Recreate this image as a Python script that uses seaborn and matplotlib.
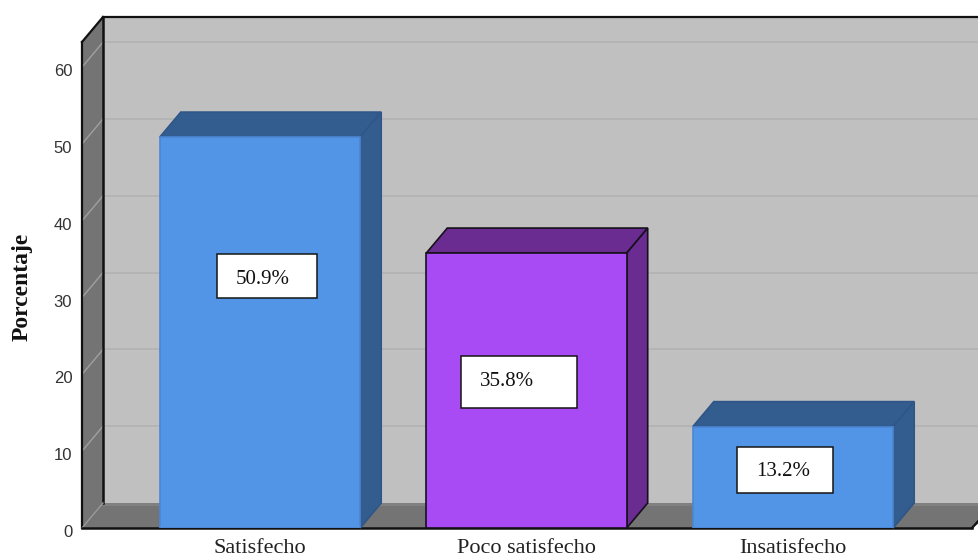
import matplotlib
matplotlib.use("Agg")
import matplotlib.pyplot as plt
import pandas as pd
import seaborn as sns
from matplotlib.patches import Polygon, Rectangle
from matplotlib.transforms import IdentityTransform, ScaledTranslation

categories = ["Satisfecho", "Poco satisfecho", "Insatisfecho"]
values = [50.9, 35.8, 13.2]
value_labels = ["50.9%", "35.8%", "13.2%"]
yticks = [0, 10, 20, 30, 40, 50, 60]
ylabel = "Porcentaje"

W, H = 979, 560
DX, DY = 21, 25
FRONT = ["#5294E6", "#A94BF5", "#5294E6"]
SIDE = ["#335C8F", "#6A2C91", "#335C8F"]
EDGE = ["#4B86D2", "#16101C", "#4B86D2"]
SIDE_EDGE = ["#2F5687", "#16101C", "#2F5687"]

sns.set_theme(style="white")
plt.rcParams["font.family"] = ["Liberation Serif", "DejaVu Serif"]
fig = plt.figure(figsize=(W / 100, H / 100), dpi=100, facecolor="white")
ax = fig.add_axes([82 / W, (H - 528) / H, (W - 82) / W, (528 - 42) / H])
ax.patch.set_alpha(0)

df = pd.DataFrame({"cat": categories, "val": values})
sns.barplot(data=df, x="cat", y="val", hue="cat", palette=FRONT, order=categories,
            hue_order=categories, width=0.752, dodge=False, legend=False, saturation=1,
            ax=ax, zorder=5)
ax.set_xlim((82 - 260) / 266.5, (979 - 260) / 266.5)
ax.set_ylim(0, (528 - 42) / 7.68)
sns.despine(ax=ax, left=True, bottom=True)
fig.canvas.draw()

I = IdentityTransform()
def P(x, y):
    """Reference pixel (top-left origin) to display coordinates."""
    return (x, H - y)
def poly(pts, color, z, edge="none", lw=0):
    ax.add_patch(Polygon(pts, closed=True, facecolor=color, edgecolor=edge, linewidth=lw,
                         transform=I, clip_on=False, zorder=z))
def line(pts, color, lw, z):
    ax.plot([p[0] for p in pts], [p[1] for p in pts], color=color, lw=lw, transform=I,
            clip_on=False, zorder=z, solid_capstyle="projecting", scalex=False, scaley=False)

# walls and floor
poly([P(103, 17), P(W + 2, 17), P(W + 2, 503), P(103, 503)], "#C0C0C0", 1)
poly([P(82, 42), P(103, 17), P(103, 503), P(82, 528)], "#747474", 1)
poly([P(82, 528), P(103, 503), P(W + 30, 503), P(972, 528)], "#747474", 1)
poly([P(103, 503), P(W + 2, 503), P(W + 2, 506), P(101, 506)], "#808080", 1.2)

# gridlines on back and side wall
for v in yticks[1:]:
    x0, y0 = ax.transData.transform((ax.get_xlim()[0], v))
    line([(x0, y0), (x0 + DX, y0 + DY)], "#A0A0A0", 1.0, 2)
    line([(x0 + DX, y0 + DY), (W + 2, y0 + DY)], "#B4B4B4", 1.4, 2)

line([P(103, 17), P(103, 503)], "#111111", 1.8, 3)
line([P(103, 17), P(W + 2, 17)], "#111111", 1.6, 3)
line([P(82, 42), P(103, 17)], "#111111", 1.6, 3)
line([P(82, 42), P(82, 528)], "#111111", 1.6, 3)
line([P(82, 528), P(103, 503)], "#999999", 1.0, 3)
line([P(82, 528), P(972, 528)], "#111111", 1.8, 3)
line([P(972, 528), P(W + 2, 518)], "#111111", 1.6, 3)

# 3D faces of bars
for bar, side, edge, side_edge in zip(ax.patches[:3], SIDE, EDGE, SIDE_EDGE):
    x0, y0 = ax.transData.transform((bar.get_x(), 0))
    x1, y1 = ax.transData.transform((bar.get_x() + bar.get_width(), bar.get_height()))
    bar.set_edgecolor(edge)
    bar.set_linewidth(1.2)
    poly([(x0, y1), (x0 + DX, y1 + DY), (x1 + DX, y1 + DY), (x1, y1)], side, 4, side_edge, 1.2)
    poly([(x1, y0), (x1 + DX, y0 + DY), (x1 + DX, y1 + DY), (x1, y1)], side, 4, side_edge, 1.2)

# value boxes
boxes = [(217, 254, 317, 298, 263, 279), (461, 356, 577, 408, 507, 381), (737, 447, 833, 493, 783, 472)]
for lab, (l, t, r, b, tx, ty) in zip(value_labels, boxes):
    ax.add_patch(Rectangle(P(l, b), r - l, b - t, facecolor="white", edgecolor="#151515", linewidth=1.1,
                           transform=I, clip_on=False, zorder=6))
    ax.text(*P(tx, ty), lab, transform=I, ha="center", va="center", fontsize=15,
            family="Liberation Serif", color="#111111", zorder=7)

ax.set_xlabel("")
ax.set_ylabel("")
ax.set_yticks(yticks)
ax.set_yticklabels([str(t) for t in yticks], family="Liberation Sans", fontsize=12, color="#333333")
ax.set_xticks(range(3))
ax.set_xticklabels(categories, family="Liberation Serif", fontsize=16, color="#222222")
ax.tick_params(axis="y", length=0, pad=7)
ax.tick_params(axis="x", length=0, pad=8)
off = ScaledTranslation(0, -3 / 72 * 0.72, fig.dpi_scale_trans)
for t in ax.get_yticklabels():
    t.set_transform(t.get_transform() + off)
fig.text(22 / W, (H - 287) / H, ylabel, rotation=90, ha="center", va="center",
         family="Liberation Serif", fontweight="bold", fontsize=17, color="#111111")

fig.savefig("out.png", dpi=100, facecolor="white")
